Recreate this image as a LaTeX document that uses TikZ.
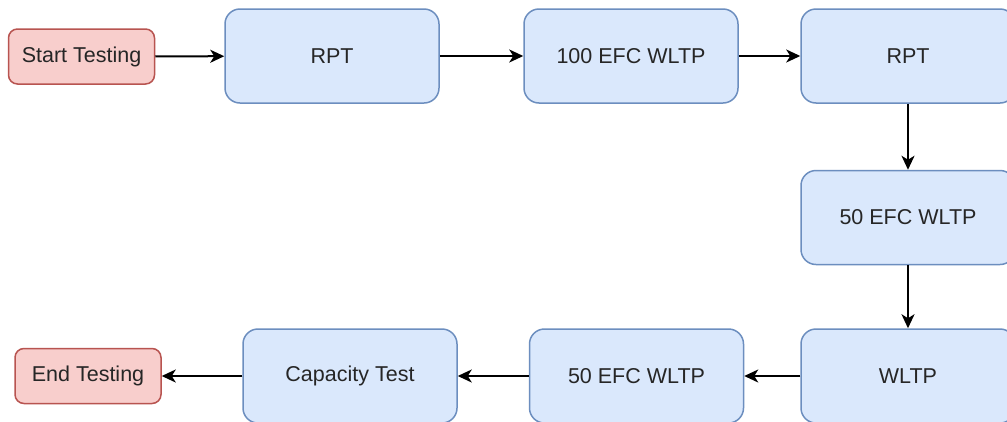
\documentclass[tikz,border=0pt]{standalone}
\usepackage{fontspec}
\setmainfont{Liberation Sans}
\usetikzlibrary{arrows.meta}
\definecolor{redfill}{HTML}{F8CECC}
\definecolor{redline}{HTML}{B85450}
\definecolor{bluefill}{HTML}{DAE8FC}
\definecolor{blueline}{HTML}{6C8EBF}
\definecolor{txt}{HTML}{262626}
\tikzset{
  x=1pt, y=-1pt,
  term/.style={draw=redline, fill=redfill, line width=1.5pt, rounded corners=9pt,
    minimum width=146pt, minimum height=55pt, inner sep=0pt, text=txt,
    font=\fontsize{21.5}{25}\selectfont},
  proc/.style={draw=blueline, fill=bluefill, line width=1.5pt, rounded corners=15pt,
    minimum width=214pt, minimum height=94pt, inner sep=0pt, text=txt,
    font=\fontsize{21.5}{25}\selectfont},
  flow/.style={line width=2pt, draw=black, -{Stealth[length=14pt,width=13pt,inset=4pt]}}
}
\begin{document}
\begin{tikzpicture}
\useasboundingbox (0,0) rectangle (1007,421);
\clip (0,0) rectangle (1007,421);
\fill[white] (0,0) rectangle (1007,421);
\node[term] (start) at (81.5,56.5) {Start Testing};
\node[proc] (rpt1) at (332,56) {RPT};
\node[proc] (efc100) at (631,56) {100 EFC WLTP};
\node[proc] (rpt2) at (908,56) {RPT};
\node[proc] (efc50a) at (908,217.5) {50 EFC WLTP};
\node[proc] (wltp) at (908,376) {WLTP};
\node[proc] (efc50b) at (636.5,376) {50 EFC WLTP};
\node[proc] (cap) at (350,376) {Capacity Test};
\node[term] (end) at (88,376) {End Testing};
\draw[flow] (start) -- (rpt1);
\draw[flow] (rpt1) -- (efc100);
\draw[flow] (efc100) -- (rpt2);
\draw[flow] (rpt2) -- (efc50a);
\draw[flow] (efc50a) -- (wltp);
\draw[flow] (wltp) -- (efc50b);
\draw[flow] (efc50b) -- (cap);
\draw[flow] (cap) -- (end);
\end{tikzpicture}
\end{document}
